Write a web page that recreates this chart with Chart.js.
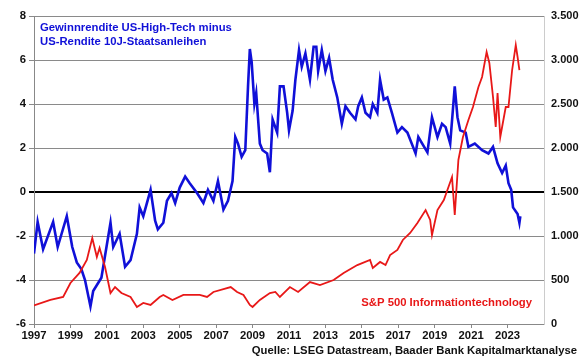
<!DOCTYPE html>
<html lang="de">
<head>
  <meta charset="UTF-8">
  <title>Gewinnrendite US-High-Tech</title>
  <style>
    body { margin: 0; padding: 0; background: white; }
    #wrap { width: 580px; height: 359px; position: relative; }
  </style>
</head>
<body>
  <div id="wrap"><canvas id="chart" width="580" height="359"></canvas></div>

  <script src="https://cdn.jsdelivr.net/npm/chart.js"></script>
  <script>
    // Gewinnrendite minus Rendite 10J (linke Achse)
    const spreadYears = [1997.0, 1997.2, 1997.5, 1998.05, 1998.3, 1998.8, 1999.1, 1999.35, 1999.6, 1999.8,
      2000.1, 2000.25, 2000.7, 2000.9, 2001.2, 2001.35, 2001.7, 2002.0, 2002.3, 2002.65, 2002.8, 2003.0,
      2003.4, 2003.65, 2003.8, 2004.1, 2004.3, 2004.55, 2004.75, 2005.0, 2005.3, 2005.55, 2005.95, 2006.3,
      2006.55, 2006.85, 2007.1, 2007.4, 2007.65, 2007.9, 2008.05, 2008.2, 2008.4, 2008.6, 2008.75, 2008.85,
      2008.95, 2009.1, 2009.2, 2009.4, 2009.55, 2009.8, 2009.95, 2010.1, 2010.35, 2010.5, 2010.7, 2010.9,
      2011.0, 2011.2, 2011.35, 2011.55, 2011.7, 2011.9, 2012.15, 2012.35, 2012.5, 2012.6, 2012.8, 2013.0,
      2013.2, 2013.4, 2013.65, 2013.9, 2014.1, 2014.35, 2014.65, 2014.8, 2015.0, 2015.2, 2015.45, 2015.6,
      2015.85, 2016.0, 2016.2, 2016.4, 2016.65, 2016.95, 2017.2, 2017.5, 2017.95, 2018.1, 2018.6, 2018.85,
      2019.15, 2019.4, 2019.6, 2019.85, 2020.1, 2020.25, 2020.4, 2020.7, 2020.85, 2021.2, 2021.6, 2021.95,
      2022.2, 2022.45, 2022.7, 2022.9, 2023.05, 2023.2, 2023.3, 2023.55, 2023.65, 2023.7];
    const spreadValues = [-2.8, -1.36, -2.6, -1.36, -2.5, -1.1, -2.5, -3.2, -3.5, -4.0,
      -5.2, -4.5, -3.9, -2.9, -1.4, -2.5, -1.9, -3.4, -3.1, -1.9, -0.7, -1.1,
      0.1, -1.3, -1.7, -1.4, -0.4, -0.05, -0.5, 0.2, 0.7, 0.4, -0.05, -0.5,
      0.1, -0.4, 0.5, -0.8, -0.4, 0.5, 2.5, 2.2, 1.6, 1.9, 4.8, 6.5,
      5.9, 4.0, 4.5, 2.2, 1.9, 1.75, 0.9, 3.3, 2.7, 4.8, 4.8, 3.6,
      2.8, 3.7, 5.1, 6.45, 5.7, 6.3, 5.1, 6.6, 6.6, 5.5, 6.45, 5.5,
      6.1, 5.1, 4.3, 3.1, 3.9, 3.6, 3.3, 3.9, 4.3, 3.6, 3.4, 4.0,
      3.6, 5.1, 4.2, 4.3, 3.6, 2.7, 2.95, 2.7, 1.75, 2.5, 1.8, 3.4,
      2.5, 3.1, 2.95, 2.2, 4.8, 3.4, 2.8, 2.7, 2.05, 2.2, 1.9, 1.75,
      2.05, 1.3, 0.86, 1.2, 0.4, 0.1, -0.7, -1.0, -1.4, -1.1];

    // S&P 500 Informationtechnology (rechte Achse)
    const techYears = [1997.0, 1997.9, 1998.6, 1999.0, 1999.5, 1999.9, 2000.2, 2000.45, 2000.6, 2000.9,
      2001.2, 2001.45, 2001.8, 2002.3, 2002.65, 2003.0, 2003.4, 2003.9, 2004.1, 2004.6, 2005.2, 2006.1,
      2006.5, 2006.85, 2007.8, 2008.15, 2008.5, 2008.85, 2009.0, 2009.4, 2009.95, 2010.25, 2010.5, 2011.05,
      2011.5, 2012.15, 2012.7, 2013.45, 2014.0, 2014.75, 2015.45, 2015.6, 2016.0, 2016.3, 2016.55, 2016.95,
      2017.25, 2017.65, 2018.05, 2018.5, 2018.75, 2018.85, 2019.15, 2019.5, 2019.95, 2020.1, 2020.3, 2020.55,
      2020.85, 2021.1, 2021.4, 2021.6, 2021.85, 2022.0, 2022.2, 2022.35, 2022.45, 2022.6, 2022.7, 2022.9,
      2023.05, 2023.25, 2023.45, 2023.55, 2023.65];
    const techValues = [210, 273, 307, 466, 580, 727, 977, 761, 864, 648,
      352, 420, 352, 307, 193, 239, 216, 307, 330, 273, 330, 330,
      307, 364, 420, 364, 330, 216, 193, 273, 352, 364, 307, 420,
      364, 477, 443, 500, 580, 670, 727, 636, 705, 670, 784, 841,
      955, 1034, 1148, 1295, 1182, 1011, 1295, 1409, 1670, 1239, 1864, 2125,
      2318, 2466, 2693, 2807, 3091, 2966, 2580, 2239, 2625, 2125, 2239, 2466,
      2466, 2886, 3170, 3034, 2886];

    const yearTicks = [1997, 1999, 2001, 2003, 2005, 2007, 2009, 2011, 2013, 2015, 2017, 2019, 2021, 2023];

    const spreadLabel = ['Gewinnrendite US-High-Tech minus', 'US-Rendite 10J-Staatsanleihen'];
    const techLabel = 'S&P 500 Informationtechnology';
    const sourceText = 'Quelle: LSEG Datastream, Baader Bank Kapitalmarktanalyse';

    const BLUE = '#1010d8';
    const RED = '#e81818';
    const FONT = "'Liberation Sans', Arial, sans-serif";

    const textPlugin = {
      id: 'texts',
      afterDraw(chart) {
        const c = chart.ctx;
        c.save();
        c.font = 'bold 11.3px ' + FONT;
        c.textBaseline = 'middle';
        c.fillStyle = BLUE;
        c.textAlign = 'left';
        c.fillText(spreadLabel[0], 40, 28);
        c.fillText(spreadLabel[1], 40, 42);
        c.fillStyle = RED;
        c.textAlign = 'right';
        c.fillText(techLabel, 532, 303);
        c.fillStyle = '#111';
        c.fillText(sourceText, 577, 351);
        c.restore();
      }
    };

    Chart.defaults.font.family = FONT;
    Chart.defaults.font.weight = 'bold';
    Chart.defaults.font.size = 11.3;
    Chart.defaults.color = '#111';

    new Chart(document.getElementById('chart'), {
      type: 'line',
      data: {
        datasets: [{
          label: techLabel,
          data: techYears.map((x, i) => ({ x, y: techValues[i] })),
          yAxisID: 'y2',
          borderColor: RED,
          borderWidth: 1.8,
          pointRadius: 0,
          tension: 0
        }, {
          label: spreadLabel.join(' '),
          data: spreadYears.map((x, i) => ({ x, y: spreadValues[i] })),
          yAxisID: 'y',
          borderColor: BLUE,
          borderWidth: 2.6,
          pointRadius: 0,
          tension: 0
        }]
      },
      options: {
        responsive: false,
        animation: false,
        layout: { padding: { top: 16 } },
        plugins: { legend: { display: false }, tooltip: { enabled: false } },
        scales: {
          x: {
            type: 'linear',
            min: 1997,
            max: 2025,
            afterBuildTicks: s => { s.ticks = yearTicks.map(v => ({ value: v })); },
            afterFit: s => { s.height = 35; },
            ticks: { padding: 1, maxRotation: 0, autoSkip: false, callback: v => String(v) },
            grid: { drawOnChartArea: false, tickLength: 4, color: '#888' },
            border: { color: '#888' }
          },
          y: {
            position: 'left',
            min: -6,
            max: 8,
            afterFit: s => { s.width = 34; },
            ticks: { stepSize: 2, padding: 3 },
            grid: {
              color: ctx => ctx.tick && ctx.tick.value === 0 ? '#000' : '#8a8a8a',
              lineWidth: ctx => ctx.tick && ctx.tick.value === 0 ? 2 : 1,
              tickLength: 5
            },
            border: { color: '#888' }
          },
          y2: {
            position: 'right',
            min: 0,
            max: 3500,
            afterFit: s => { s.width = 36; },
            ticks: { stepSize: 500, padding: 7, font: { size: 11 }, callback: v => v.toLocaleString('de-DE') },
            grid: { drawOnChartArea: false, drawTicks: false },
            border: { color: '#ccc' }
          }
        }
      },
      plugins: [textPlugin]
    });
  </script>
</body>
</html>
